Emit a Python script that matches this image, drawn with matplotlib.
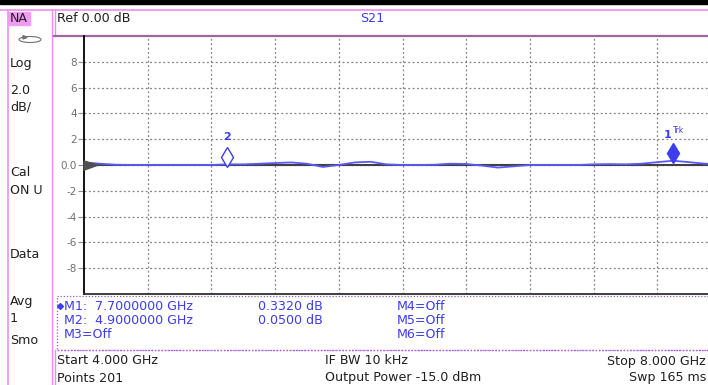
import matplotlib.pyplot as plt
from matplotlib.patches import Rectangle, Ellipse, Polygon

# S21 trace (GHz, dB)
freq = [4.0, 4.1, 4.2, 4.3, 4.4, 4.5, 4.6, 4.7, 4.8, 4.9,
        5.0, 5.1, 5.2, 5.3, 5.4, 5.5, 5.6, 5.7, 5.8, 5.9,
        6.0, 6.1, 6.2, 6.3, 6.4, 6.5, 6.6, 6.7, 6.8, 6.9,
        7.0, 7.1, 7.2, 7.3, 7.4, 7.5, 7.6, 7.7, 7.8, 7.9, 8.0]
s21 = [0.2, 0.1, 0.02, 0.0, 0.0, 0.0, 0.0, 0.0, 0.0, 0.05,
       0.05, 0.1, 0.15, 0.2, 0.1, -0.15, 0.0, 0.2, 0.25, 0.05,
       0.0, 0.0, 0.02, 0.1, 0.08, -0.05, -0.2, -0.1, 0.0, 0.0,
       0.0, 0.0, 0.05, 0.07, 0.05, 0.1, 0.22, 0.332, 0.22, 0.1, 0.05]
markers = {'1': (7.7, 0.332), '2': (4.9, 0.05)}
yticks = [-8, -6, -4, -2, 0, 2, 4, 6, 8]
xgrid = [4.4, 4.8, 5.2, 5.6, 6.0, 6.4, 6.8, 7.2, 7.6]

W, H = 708, 385
pink = '#f08cf0'
blue = '#3c3cf0'
trace = '#5a5aff'
txt = '#202020'
fs = 9.1

fig = plt.figure(figsize=(W / 100, H / 100), dpi=100)

# overlay in pixel coords
ov = fig.add_axes([0, 0, 1, 1])
ov.set_xlim(0, W)
ov.set_ylim(H, 0)
ov.axis('off')

ov.add_patch(Rectangle((0, 0), W, 3.5, color='black'))
ov.plot([0, W], [10, 10], color=pink, lw=1.2)
ov.plot([8, 8], [10, H], color=pink, lw=1.2)
ov.plot([52, 52], [10, H], color=pink, lw=1.0)
ov.plot([54.5, 54.5], [10, 36], color=pink, lw=1.0)
ov.plot([54.5, 54.5], [350, H], color=pink, lw=1.0)
ov.plot([54, W], [35.5, 35.5], color='#9a6a9a', lw=1.6)
ov.add_patch(Rectangle((9, 11.5), 21, 13, color='#f49af4'))
ov.text(10, 18.5, 'NA', fontsize=fs, color=txt, va='center')
ov.add_patch(Ellipse((30, 39.5), 22, 6, fill=False, ec='#707070', lw=0.8))
ov.add_patch(Polygon([[23, 35.5], [27, 37.5], [23, 39]], color='#707070'))

# left softkey panel
for label, y in [('Log', 64), ('2.0', 90), ('dB/', 107), ('Cal', 173), ('ON U', 190),
                 ('Data', 254), ('Avg', 301), ('1', 318), ('Smo', 341)]:
    ov.text(10, y, label, fontsize=fs, color=txt, va='center')

ov.text(57, 18.5, 'Ref 0.00 dB', fontsize=fs, color=txt, va='center')
ov.text(360, 18.5, 'S21', fontsize=fs, color=blue, va='center')

# marker table
ov.add_patch(Rectangle((57, 295.5), W, 54.5, fill=False, ec='#8a5ad0', lw=0.9, ls=(0, (1, 1.5))))
ov.plot([57, W], [350, 350], color='#c060e0', lw=1, ls=(0, (1, 1.5)))
ov.plot([59.5], [306], marker='D', ms=3, color=blue)
rows = [('M1:  7.7000000 GHz', '0.3320 dB', 'M4=Off'),
        ('M2:  4.9000000 GHz', '0.0500 dB', 'M5=Off'),
        ('M3=Off', '', 'M6=Off')]
for i, (a, b, c) in enumerate(rows):
    y = 306 + i * 14
    ov.text(64, y, a, fontsize=fs, color=blue, va='center')
    ov.text(258, y, b, fontsize=fs, color=blue, va='center')
    ov.text(397, y, c, fontsize=fs, color=blue, va='center')

ov.text(57, 361, 'Start 4.000 GHz', fontsize=fs, color=txt, va='center')
ov.text(57, 378, 'Points 201', fontsize=fs, color=txt, va='center')
ov.text(325, 361, 'IF BW 10 kHz', fontsize=fs, color=txt, va='center')
ov.text(325, 378, 'Output Power -15.0 dBm', fontsize=fs, color=txt, va='center')
ov.text(706, 361, 'Stop 8.000 GHz', fontsize=fs, color=txt, va='center', ha='right')
ov.text(706, 378, 'Swp 165 ms', fontsize=fs, color=txt, va='center', ha='right')

# data axes: 4..8 GHz maps to x 84..721, +10..-10 dB to y 36..294
x0, x1, y0, y1 = 84, 721, 36, 294
ax = fig.add_axes([x0 / W, (H - y1) / H, (x1 - x0) / W, (y1 - y0) / H])
ax.set_xlim(4, 8)
ax.set_ylim(-10, 10)
ax.patch.set_alpha(0)
for s in ['top', 'right']:
    ax.spines[s].set_visible(False)
ax.spines['left'].set_color('black')
ax.spines['bottom'].set_color('#303030')
ax.spines['left'].set_linewidth(1.3)
ax.spines['bottom'].set_linewidth(1.3)
ax.set_xticks(xgrid)
ax.set_xticklabels([])
ax.tick_params(axis='x', length=0)
ax.set_yticks(yticks)
ax.set_yticklabels(['0.0' if v == 0 else str(v) for v in yticks])
ax.tick_params(axis='y', length=4, width=0.8, color='#909090', labelcolor='#707070',
               labelsize=7.5, pad=1)
ax.grid(True, color='#808080', ls=(0, (1.5, 2)), lw=0.9)

ax.axhline(0, color='#404040', lw=1.5, zorder=2)
ax.plot(freq, s21, color=trace, lw=1.3, zorder=3)
ax.add_patch(Polygon([[4.0, 0.3], [4.09, 0.0], [4.0, -0.4]], color='#505050', zorder=4,
                     clip_on=False))

f2, v2 = markers['2']
ax.plot(f2, v2 + 0.6, marker='d', ms=10, mfc='white', mec=blue, mew=1, zorder=5)
ax.text(f2, v2 + 1.7, '2', color=blue, fontsize=8, ha='center', va='bottom', fontweight='bold')
f1, v1 = markers['1']
ax.plot(f1, v1 + 0.6, marker='d', ms=10, color=blue, zorder=5)
ax.text(f1 - 0.01, v1 + 1.6, '1', color=blue, fontsize=8, ha='right', va='bottom', fontweight='bold')
ax.text(f1, v1 + 2.0, 'Trk', color=blue, fontsize=5.5, ha='left', va='bottom')

fig.savefig('out.png', dpi=100)
